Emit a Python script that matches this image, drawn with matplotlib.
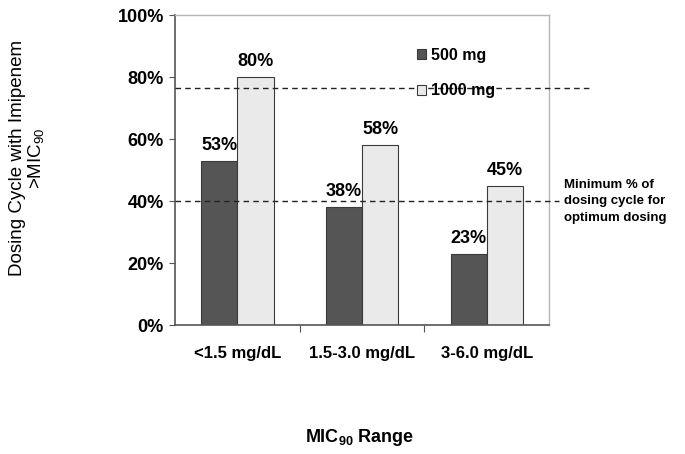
import matplotlib.pyplot as plt
import numpy as np

categories = ["<1.5 mg/dL", "1.5-3.0 mg/dL", "3-6.0 mg/dL"]
dose_500 = [53, 38, 23]
dose_1000 = [80, 58, 45]
series_labels = ["500 mg", "1000 mg"]
threshold_low = 40
threshold_high = 76.7
yticks = [0, 20, 40, 60, 80, 100]

plt.rcParams['font.family'] = ['Liberation Sans', 'DejaVu Sans']
plt.rcParams['font.weight'] = 'bold'
plt.rcParams['mathtext.default'] = 'regular'

fig = plt.figure(figsize=(6.85, 4.54), dpi=100)
ax = fig.add_axes([0.2555, 0.2841, 0.546, 0.6818])

x = np.arange(len(categories))
w = 0.29
b1 = ax.bar(x - w / 2, dose_500, w, color='#555555', edgecolor='#3a3a3a', linewidth=0.8, label=series_labels[0], zorder=2)
b2 = ax.bar(x + w / 2, dose_1000, w, color='#eaeaea', edgecolor='#3a3a3a', linewidth=0.8, label=series_labels[1], zorder=2)

for bars, vals in ((b1, dose_500), (b2, dose_1000)):
    for r, v in zip(bars, vals):
        ax.text(r.get_x() + r.get_width() / 2, v + 2.3, f"{v}%", ha='center', va='bottom',
                fontsize=13, fontweight='bold')

# threshold lines run past the right edge of the plot
ax.plot([-0.5, 2.85], [threshold_high] * 2, ls=(0, (4, 3)), color='#222222', lw=1, clip_on=False, zorder=3)
ax.plot([-0.5, 2.58], [threshold_low] * 2, ls=(0, (4, 3)), color='#222222', lw=1, clip_on=False, zorder=3)

ax.text(2.62, threshold_low, "Minimum % of\ndosing cycle for\noptimum dosing", ha='left', va='center',
        fontsize=9.5, fontweight='bold', linespacing=1.5)

ax.set_xlim(-0.5, 2.5)
ax.set_ylim(0, 100)
ax.set_yticks(yticks)
ax.set_yticklabels([f"{t}%" for t in yticks], fontsize=13, fontweight='bold')
ax.set_xticks([0.5, 1.5])
ax.set_xticklabels([])
ax.set_xticks(x, minor=True)
ax.set_xticklabels(categories, minor=True, fontsize=12, fontweight='bold')
ax.tick_params(axis='x', which='minor', length=0, pad=15)
ax.tick_params(axis='x', which='major', length=5, color='#555555', direction='out')
ax.tick_params(axis='y', length=4, color='#555555', direction='out', pad=4)

for s in ('left', 'bottom'):
    ax.spines[s].set_color('#555555')
    ax.spines[s].set_linewidth(1.2)
for s in ('top', 'right'):
    ax.spines[s].set_color('#b5b5b5')
    ax.spines[s].set_linewidth(1.0)

leg = ax.legend(loc='upper left', bbox_to_anchor=(0.608, 0.943), frameon=False,
                handlelength=0.6, handleheight=0.6, handletextpad=0.3, labelspacing=1.3,
                prop={'weight': 'bold', 'size': 11.5})

ax.set_ylabel("Dosing Cycle with Imipenem\n>MIC$_{90}$", fontsize=13.5, fontweight='normal',
              linespacing=1.0)
ax.yaxis.set_label_coords(-0.345, 0.54)
fig.text(0.525, 0.037, "MIC$_{90}$ Range", ha='center', va='center', fontsize=13, fontweight='bold')

fig.savefig("out.png", dpi=100)
